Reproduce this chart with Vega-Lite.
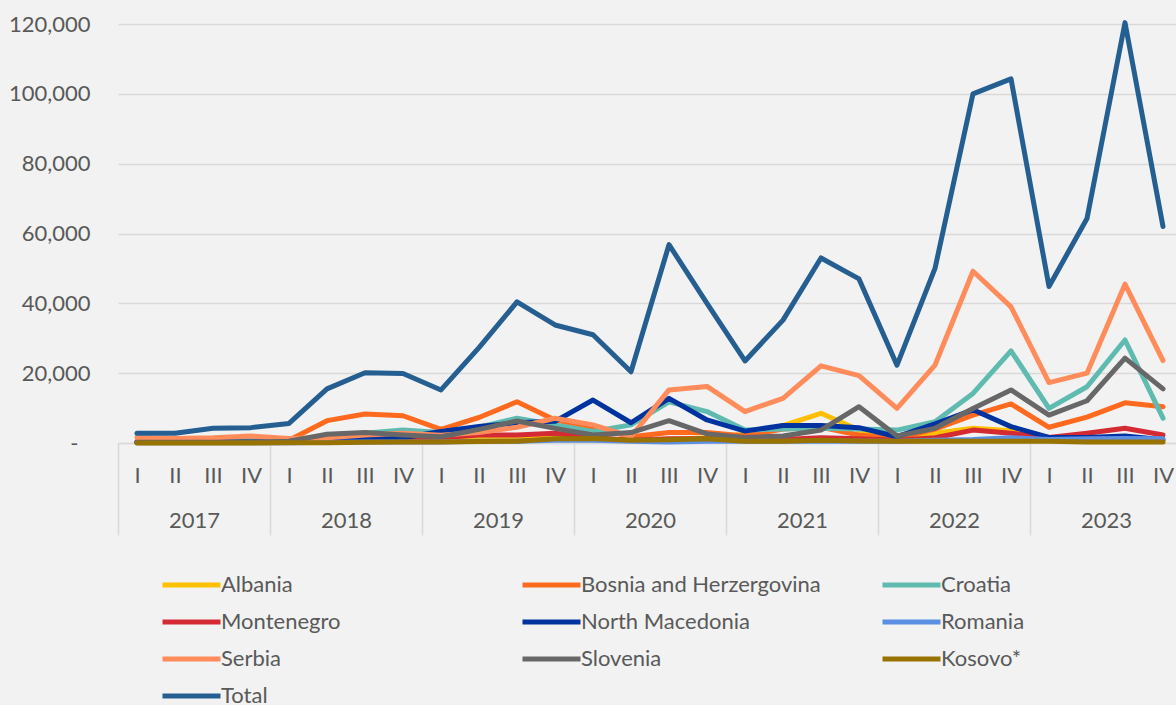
{
  "$schema": "https://vega.github.io/schema/vega-lite/v6.json",
  "width": 1064,
  "height": 419,
  "autosize": {"type": "none"},
  "padding": {"left": 118, "top": 24, "right": -6, "bottom": 262},
  "background": "#f1f2f1",
  "config": {
    "view": {"stroke": null},
    "font": "Lato",
    "axis": {"labelFont": "Lato", "labelColor": "#595959", "labelFontSize": 22, "title": null}
  },
  "data": {
    "values": [
      {"p": "2017 I", "yr": "2017", "Albania": 300, "Bosnia and Herzergovina": 500, "Croatia": 300, "Montenegro": 200, "North Macedonia": 200, "Romania": 100, "Serbia": 1500, "Slovenia": 200, "Kosovo*": 0, "Total": 2800},
      {"p": "2017 II", "yr": "2017", "Albania": 300, "Bosnia and Herzergovina": 500, "Croatia": 300, "Montenegro": 200, "North Macedonia": 200, "Romania": 100, "Serbia": 1300, "Slovenia": 200, "Kosovo*": 0, "Total": 2800},
      {"p": "2017 III", "yr": "2017", "Albania": 300, "Bosnia and Herzergovina": 500, "Croatia": 500, "Montenegro": 200, "North Macedonia": 300, "Romania": 100, "Serbia": 1500, "Slovenia": 200, "Kosovo*": 0, "Total": 4200},
      {"p": "2017 IV", "yr": "2017", "Albania": 300, "Bosnia and Herzergovina": 500, "Croatia": 800, "Montenegro": 200, "North Macedonia": 300, "Romania": 100, "Serbia": 2000, "Slovenia": 300, "Kosovo*": 0, "Total": 4400},
      {"p": "2018 I", "yr": "2018", "Albania": 300, "Bosnia and Herzergovina": 800, "Croatia": 800, "Montenegro": 300, "North Macedonia": 500, "Romania": 100, "Serbia": 1300, "Slovenia": 500, "Kosovo*": 100, "Total": 5600},
      {"p": "2018 II", "yr": "2018", "Albania": 500, "Bosnia and Herzergovina": 6400, "Croatia": 1500, "Montenegro": 500, "North Macedonia": 800, "Romania": 200, "Serbia": 1500, "Slovenia": 2500, "Kosovo*": 100, "Total": 15500},
      {"p": "2018 III", "yr": "2018", "Albania": 800, "Bosnia and Herzergovina": 8300, "Croatia": 2800, "Montenegro": 800, "North Macedonia": 1500, "Romania": 300, "Serbia": 2300, "Slovenia": 3000, "Kosovo*": 200, "Total": 20100},
      {"p": "2018 IV", "yr": "2018", "Albania": 1000, "Bosnia and Herzergovina": 7800, "Croatia": 3700, "Montenegro": 1000, "North Macedonia": 1500, "Romania": 300, "Serbia": 2800, "Slovenia": 2300, "Kosovo*": 300, "Total": 19900},
      {"p": "2019 I", "yr": "2019", "Albania": 800, "Bosnia and Herzergovina": 3900, "Croatia": 3000, "Montenegro": 1500, "North Macedonia": 3300, "Romania": 300, "Serbia": 2200, "Slovenia": 1800, "Kosovo*": 300, "Total": 15200},
      {"p": "2019 II", "yr": "2019", "Albania": 1000, "Bosnia and Herzergovina": 7300, "Croatia": 4500, "Montenegro": 2300, "North Macedonia": 4700, "Romania": 500, "Serbia": 3000, "Slovenia": 3900, "Kosovo*": 400, "Total": 27300},
      {"p": "2019 III", "yr": "2019", "Albania": 1200, "Bosnia and Herzergovina": 11800, "Croatia": 7100, "Montenegro": 2300, "North Macedonia": 5800, "Romania": 500, "Serbia": 4500, "Slovenia": 6300, "Kosovo*": 500, "Total": 40400},
      {"p": "2019 IV", "yr": "2019", "Albania": 1500, "Bosnia and Herzergovina": 6600, "Croatia": 5200, "Montenegro": 2800, "North Macedonia": 6200, "Romania": 800, "Serbia": 7100, "Slovenia": 4200, "Kosovo*": 1200, "Total": 33800},
      {"p": "2020 I", "yr": "2020", "Albania": 1000, "Bosnia and Herzergovina": 4500, "Croatia": 3300, "Montenegro": 1500, "North Macedonia": 12300, "Romania": 800, "Serbia": 5200, "Slovenia": 2300, "Kosovo*": 1300, "Total": 31000},
      {"p": "2020 II", "yr": "2020", "Albania": 800, "Bosnia and Herzergovina": 1800, "Croatia": 5200, "Montenegro": 800, "North Macedonia": 5800, "Romania": 500, "Serbia": 1800, "Slovenia": 3000, "Kosovo*": 800, "Total": 20400},
      {"p": "2020 III", "yr": "2020", "Albania": 1000, "Bosnia and Herzergovina": 3000, "Croatia": 11800, "Montenegro": 1200, "North Macedonia": 12800, "Romania": 300, "Serbia": 15200, "Slovenia": 6400, "Kosovo*": 900, "Total": 56800},
      {"p": "2020 IV", "yr": "2020", "Albania": 1500, "Bosnia and Herzergovina": 3000, "Croatia": 9000, "Montenegro": 1200, "North Macedonia": 6600, "Romania": 500, "Serbia": 16200, "Slovenia": 2600, "Kosovo*": 1200, "Total": 40000},
      {"p": "2021 I", "yr": "2021", "Albania": 2500, "Bosnia and Herzergovina": 2000, "Croatia": 3700, "Montenegro": 800, "North Macedonia": 3400, "Romania": 500, "Serbia": 9000, "Slovenia": 1600, "Kosovo*": 500, "Total": 23500},
      {"p": "2021 II", "yr": "2021", "Albania": 5000, "Bosnia and Herzergovina": 4000, "Croatia": 4000, "Montenegro": 1000, "North Macedonia": 5000, "Romania": 500, "Serbia": 12800, "Slovenia": 2000, "Kosovo*": 500, "Total": 35200},
      {"p": "2021 III", "yr": "2021", "Albania": 8500, "Bosnia and Herzergovina": 4500, "Croatia": 4200, "Montenegro": 1500, "North Macedonia": 5000, "Romania": 500, "Serbia": 22100, "Slovenia": 3700, "Kosovo*": 800, "Total": 53000},
      {"p": "2021 IV", "yr": "2021", "Albania": 3700, "Bosnia and Herzergovina": 2300, "Croatia": 4000, "Montenegro": 1200, "North Macedonia": 4400, "Romania": 500, "Serbia": 19300, "Slovenia": 10400, "Kosovo*": 600, "Total": 47000},
      {"p": "2022 I", "yr": "2022", "Albania": 1200, "Bosnia and Herzergovina": 1300, "Croatia": 3700, "Montenegro": 800, "North Macedonia": 1800, "Romania": 500, "Serbia": 9900, "Slovenia": 2000, "Kosovo*": 500, "Total": 22300},
      {"p": "2022 II", "yr": "2022", "Albania": 2800, "Bosnia and Herzergovina": 4000, "Croatia": 6100, "Montenegro": 1500, "North Macedonia": 5500, "Romania": 800, "Serbia": 22300, "Slovenia": 4200, "Kosovo*": 500, "Total": 50000},
      {"p": "2022 III", "yr": "2022", "Albania": 4200, "Bosnia and Herzergovina": 8000, "Croatia": 14200, "Montenegro": 3700, "North Macedonia": 9500, "Romania": 1000, "Serbia": 49200, "Slovenia": 9900, "Kosovo*": 500, "Total": 100000},
      {"p": "2022 IV", "yr": "2022", "Albania": 3500, "Bosnia and Herzergovina": 11200, "Croatia": 26400, "Montenegro": 2800, "North Macedonia": 4700, "Romania": 1500, "Serbia": 39000, "Slovenia": 15200, "Kosovo*": 500, "Total": 104300},
      {"p": "2023 I", "yr": "2023", "Albania": 1000, "Bosnia and Herzergovina": 4500, "Croatia": 9900, "Montenegro": 1600, "North Macedonia": 1600, "Romania": 1000, "Serbia": 17300, "Slovenia": 8000, "Kosovo*": 500, "Total": 44800},
      {"p": "2023 II", "yr": "2023", "Albania": 800, "Bosnia and Herzergovina": 7400, "Croatia": 16100, "Montenegro": 2800, "North Macedonia": 1600, "Romania": 1200, "Serbia": 20000, "Slovenia": 12100, "Kosovo*": 300, "Total": 64300},
      {"p": "2023 III", "yr": "2023", "Albania": 800, "Bosnia and Herzergovina": 11500, "Croatia": 29500, "Montenegro": 4200, "North Macedonia": 2000, "Romania": 1300, "Serbia": 45500, "Slovenia": 24300, "Kosovo*": 300, "Total": 120400},
      {"p": "2023 IV", "yr": "2023", "Albania": 600, "Bosnia and Herzergovina": 10400, "Croatia": 7100, "Montenegro": 2300, "North Macedonia": 900, "Romania": 1200, "Serbia": 23600, "Slovenia": 15500, "Kosovo*": 300, "Total": 62000}
    ]
  },
  "transform": [
    {"fold": ["Albania", "Bosnia and Herzergovina", "Croatia", "Montenegro", "North Macedonia", "Romania", "Serbia", "Slovenia", "Kosovo*", "Total"], "as": ["country", "value"]}
  ],
  "layer": [
    {
      "mark": {"type": "line", "strokeWidth": 5, "strokeCap": "round", "strokeJoin": "round"},
      "encoding": {
        "x": {
          "field": "p", "type": "ordinal", "sort": null,
          "scale": {"type": "point", "padding": 0.5},
          "axis": {"orient": "bottom", "labelExpr": "split(datum.value, ' ')[1]", "labelAngle": 0, "ticks": false, "domain": false, "grid": false, "labelPadding": 22}
        },
        "y": {
          "field": "value", "type": "quantitative",
          "scale": {"domain": [0, 120000]},
          "axis": {
            "values": [0, 20000, 40000, 60000, 80000, 100000, 120000],
            "labelExpr": "datum.value == 0 ? '-' : format(datum.value, ',')",
            "labelPadding": {"condition": {"test": "datum.value == 0", "value": 40}, "value": 28},
            "ticks": false, "domain": false, "grid": true, "gridColor": "#d9d9d9", "gridWidth": 1.5
          }
        },
        "color": {
          "field": "country", "type": "nominal",
          "scale": {
            "domain": ["Albania", "Bosnia and Herzergovina", "Croatia", "Montenegro", "North Macedonia", "Romania", "Serbia", "Slovenia", "Kosovo*", "Total"],
            "range": ["#FFC000", "#FF6A1F", "#5FBAB0", "#D42A34", "#0033A0", "#5B8FE3", "#FF8C5A", "#676767", "#997300", "#255E91"]
          },
          "legend": {
            "orient": "none", "legendX": 42, "legendY": 544, "direction": "horizontal", "columns": 3, "title": null,
            "symbolType": "M-1,0H3", "symbolSize": 841, "symbolStrokeWidth": 5,
            "labelFontSize": 22, "labelColor": "#595959", "labelFont": "Lato", "labelOffset": 27, "labelLimit": 500,
            "columnPadding": 51, "rowPadding": 9, "gridAlign": "all", "padding": 0
          }
        }
      }
    },
    {
      "mark": {"type": "rule", "opacity": 0},
      "encoding": {
        "x": {
          "field": "yr", "type": "ordinal",
          "scale": {"type": "band", "paddingInner": 0, "paddingOuter": 0},
          "axis": {"orient": "bottom", "labelAngle": 0, "tickBand": "extent", "tickSize": 92, "tickColor": "#d9d9d9", "tickWidth": 1.5, "domain": true, "domainColor": "#d9d9d9", "domainWidth": 1.5, "grid": false, "labelPadding": -25}
        }
      }
    }
  ],
  "resolve": {"scale": {"x": "independent"}, "axis": {"x": "independent"}}
}
